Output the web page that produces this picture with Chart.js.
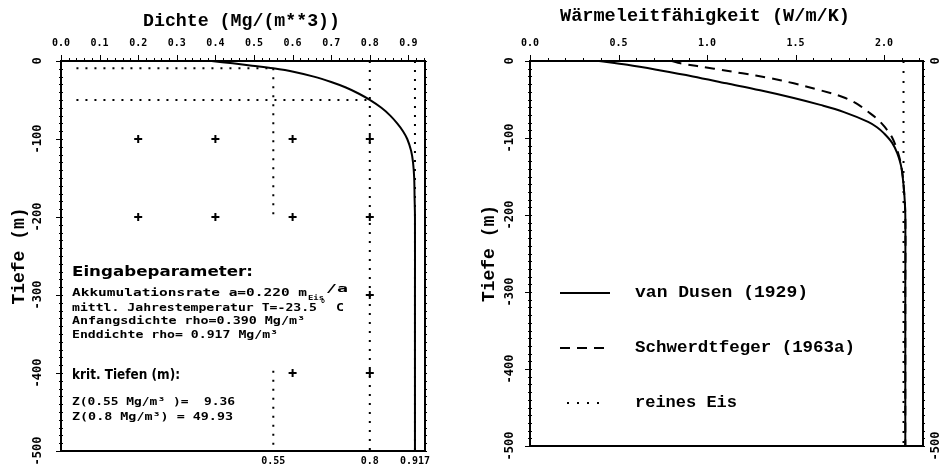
<!DOCTYPE html>
<html>
<head>
<meta charset="UTF-8">
<title>Dichte und Waermeleitfaehigkeit</title>
<script src="https://cdn.jsdelivr.net/npm/chart.js@4.4.1/dist/chart.umd.min.js"></script>
<style>
  body { margin:0; background:#fff; }
  #wrap { position:relative; width:943px; height:470px; }
  canvas { position:absolute; top:0; }
  #left { left:0; }
  #right { left:470px; }
</style>
</head>
<body>
<div id="wrap">
  <canvas id="left" width="470" height="470"></canvas>
  <canvas id="right" width="473" height="470"></canvas>
</div>
<script>
// tick labels
const densityTicks = [0, 0.1, 0.2, 0.3, 0.4, 0.5, 0.6, 0.7, 0.8, 0.9];
const conductTicks = [0, 0.5, 1.0, 1.5, 2.0];
const depthTicks = [0, -100, -200, -300, -400, -500];
const critTicks = [0.55, 0.8, 0.917];
const edgeTicks = [0, -500];

// input parameters (text block)
const accumulation = 0.220;
const meanTemp = -23.5;
const rhoStart = 0.390;
const rhoEnd = 0.917;
const critDensities = [0.55, 0.8];
const critDepths = [9.36, 49.93];

// density profile
const densityDepth = [0, -3, -6, -9.36, -14, -20, -27, -34, -42, -49.93, -60, -70, -80, -90, -100, -115, -130, -150, -175, -200, -300, -500];
const density = [0.39, 0.445, 0.495, 0.55, 0.605, 0.655, 0.70, 0.738, 0.772, 0.80, 0.83, 0.853, 0.871, 0.886, 0.897, 0.907, 0.912, 0.915, 0.916, 0.917, 0.917, 0.917];

// grid crosses
const crossDensity = [0.2, 0.4, 0.6, 0.8, 0.2, 0.4, 0.6, 0.8, 0.8, 0.6, 0.8];
const crossDepth = [-100, -100, -100, -100, -200, -200, -200, -200, -300, -400, -400];

// helper lines of the left panel
const refLineStart = 0.04;
const gap055 = [-200, -397];

// conductivity profiles
const vdDepth = [0, -5, -12, -20, -29, -38, -48, -57, -66, -79, -86, -94, -106, -120, -135, -150, -175, -200, -300, -500];
const vanDusen = [0.39, 0.55, 0.73, 0.92, 1.11, 1.30, 1.49, 1.64, 1.77, 1.91, 1.96, 2.00, 2.045, 2.075, 2.095, 2.105, 2.115, 2.12, 2.12, 2.12];
const swDepth = [0, -3, -10, -16, -22, -29, -38, -47, -56, -66, -76, -86, -99, -120, -140, -160, -200, -300, -500];
const schwerdtfeger = [0.80, 0.85, 1.04, 1.20, 1.35, 1.49, 1.64, 1.77, 1.85, 1.91, 1.965, 2.005, 2.045, 2.08, 2.10, 2.11, 2.12, 2.12, 2.12];
const pureIce = 2.11;

const MONO = "'Liberation Mono', monospace";
const SMALL = "bold 10px 'DejaVu Sans Mono', monospace";
const BIG = "bold 14px 'DejaVu Sans', sans-serif";

const pts = (xs, ys) => xs.map((v, i) => ({x: v, y: ys[i]}));

function line(data, dash, width, tension) {
    return {data: data, showLine: true, borderColor: '#000', borderWidth: width || 2,
        borderDash: dash || [], borderCapStyle: 'butt', pointRadius: 0, tension: tension || 0, spanGaps: false};
}

// draw text squeezed/stretched to a given width
function drawFit(ctx, text, x, y, font, width) {
    ctx.save();
    ctx.font = font;
    ctx.fillStyle = '#000';
    ctx.textBaseline = 'middle';
    ctx.textAlign = 'left';
    const w = ctx.measureText(text).width;
    ctx.translate(x, y);
    ctx.scale(width / w, 1);
    ctx.fillText(text, 0, 0);
    ctx.restore();
}

// frame plus the small tick marks
function drawFrame(chart, o) {
    const {ctx, chartArea: a, scales} = chart;
    const x = scales.x, y = scales.y;
    ctx.save();
    ctx.strokeStyle = '#000';
    ctx.lineWidth = 1;
    ctx.beginPath();
    for (let i = 0; i * o.xMinor <= x.max + 1e-9; i++) {
        const px = Math.round(x.getPixelForValue(i * o.xMinor)) + 0.5;
        const major = i % o.xEvery === 0;
        ctx.moveTo(px, a.top);
        ctx.lineTo(px, a.top - (major ? 6 : 3));
    }
    for (let i = 0; i * o.yMinor <= -y.min + 1e-9; i++) {
        const py = Math.round(y.getPixelForValue(-i * o.yMinor)) + 0.5;
        const major = i % o.yEvery === 0;
        ctx.moveTo(a.left - (major ? 5 : 2), py);
        ctx.lineTo(a.left + 2, py);
        ctx.moveTo(a.right - 1, py);
        ctx.lineTo(a.right + 2, py);
    }
    ctx.stroke();
    ctx.lineWidth = 2;
    ctx.strokeRect(a.left, a.top, a.right - a.left, a.bottom - a.top);
    ctx.restore();
}

const tickFont = {family: "'DejaVu Sans Mono', monospace", size: 10, weight: 'bold'};
const yTickFont = {family: "'DejaVu Sans Mono', monospace", size: 12, weight: 'bold'};
const axisTitle = {display: true, text: 'Tiefe (m)', color: '#000',
    font: {family: MONO, size: 18, weight: 'bold', lineHeight: 1.2}, padding: {top: 9, bottom: 0}};

function yAxis(width, pad, ticks, position) {
    return {
        type: 'linear', position: position || 'left', min: -500, max: 0,
        afterBuildTicks: s => { s.ticks = ticks.map(v => ({value: v})); },
        afterFit: s => { s.width = width; },
        grid: {display: false, drawTicks: false},
        border: {display: false},
        ticks: {color: '#000', font: yTickFont, padding: pad, crossAlign: 'center',
            minRotation: 90, maxRotation: 90, autoSkip: false, callback: v => String(v)}
    };
}

function xTop(max, ticks) {
    return {
        type: 'linear', position: 'top', min: 0, max: max,
        afterBuildTicks: s => { s.ticks = ticks.map(v => ({value: v})); },
        afterFit: s => { s.height = 61; },
        grid: {display: false, drawTicks: false},
        border: {display: false},
        ticks: {color: '#000', font: tickFont, padding: 12, autoSkip: false, maxRotation: 0,
            callback: v => v.toFixed(1)}
    };
}

// ---------- left: Dichte ----------
const densMax = 0.943;
const leftData = [
    line(pts(density, densityDepth), [], 2, 0.35),
    line([{x: rhoEnd, y: 0}, {x: rhoEnd, y: -500}], [2, 7], 2),
    line([{x: critDensities[1], y: 0}, {x: critDensities[1], y: -500}], [2, 7], 2),
    line([{x: critDensities[0], y: -critDepths[0]}, {x: critDensities[0], y: gap055[0]},
          {x: critDensities[0], y: null},
          {x: critDensities[0], y: gap055[1]}, {x: critDensities[0], y: -500}], [2, 7], 2),
    line([{x: refLineStart, y: -critDepths[0]}, {x: critDensities[0], y: -critDepths[0]}], [2, 7], 2),
    line([{x: refLineStart, y: -critDepths[1]}, {x: critDensities[1], y: -critDepths[1]}], [2, 7], 2),
    {data: pts(crossDensity, crossDepth), showLine: false, pointStyle: 'cross', pointRadius: 4,
        borderColor: '#000', borderWidth: 2, backgroundColor: '#000'}
];

const leftDecor = {
    id: 'leftDecor',
    afterDraw(chart) {
        const ctx = chart.ctx;
        drawFrame(chart, {xMinor: 0.02, xEvery: 5, yMinor: 10, yEvery: 10});
        drawFit(ctx, 'Dichte (Mg/(m**3))', 143, 21, 'bold 18px ' + MONO, 197);
        drawFit(ctx, 'Eingabeparameter:', 72, 272, BIG, 181);
        drawFit(ctx, 'Akkumulationsrate a=' + accumulation.toFixed(3) + ' m', 72, 293, SMALL, 235);
        drawFit(ctx, 'Eis', 308, 298, "bold 7px 'DejaVu Sans Mono'", 16);
        drawFit(ctx, '/a', 326, 289, SMALL, 22);
        drawFit(ctx, 'mittl. Jahrestemperatur T=' + meanTemp.toFixed(1), 72, 308, SMALL, 245);
        drawFit(ctx, '°', 320, 304, SMALL, 6);
        drawFit(ctx, 'C', 336, 308, SMALL, 8);
        drawFit(ctx, 'Anfangsdichte rho=' + rhoStart.toFixed(3) + ' Mg/m³', 72, 321, SMALL, 233);
        drawFit(ctx, 'Enddichte rho= ' + rhoEnd.toFixed(3) + ' Mg/m³', 72, 335, SMALL, 206);
        drawFit(ctx, 'krit. Tiefen (m):', 72, 375, BIG, 108);
        drawFit(ctx, 'Z(' + critDensities[0] + ' Mg/m³ )=  ' + critDepths[0].toFixed(2), 72, 402, SMALL, 163);
        drawFit(ctx, 'Z(' + critDensities[1] + ' Mg/m³) = ' + critDepths[1].toFixed(2), 72, 417, SMALL, 161);
    }
};

new Chart(document.getElementById('left'), {
    type: 'scatter',
    data: {datasets: leftData},
    options: {
        responsive: false, animation: false, events: [],
        layout: {padding: {left: 0, top: 0, right: 45, bottom: 0}},
        plugins: {legend: {display: false}, tooltip: {enabled: false}},
        scales: {
            x: xTop(densMax, densityTicks),
            xb: {
                type: 'linear', position: 'bottom', min: 0, max: densMax,
                afterBuildTicks: s => { s.ticks = critTicks.map(v => ({value: v})); },
                afterFit: s => { s.height = 19; },
                grid: {display: false, drawTicks: false},
                border: {display: false},
                ticks: {color: '#000', font: tickFont, padding: 4, autoSkip: false, maxRotation: 0,
                    callback: v => String(v)}
            },
            y: Object.assign(yAxis(61, 9, depthTicks), {title: axisTitle})
        }
    },
    plugins: [leftDecor]
});

// ---------- right: Waermeleitfaehigkeit ----------
const condMax = 2.22;
const rightData = [
    line(pts(vanDusen, vdDepth), [], 2, 0.35),
    line(pts(schwerdtfeger, swDepth), [10, 7], 2, 0.35),
    line([{x: pureIce, y: 0}, {x: pureIce, y: -500}], [2, 8], 2)
];
const legendNames = ['van Dusen (1929)', 'Schwerdtfeger (1963a)', 'reines Eis'];
const legendWidths = [173, 220, 102];

const rightDecor = {
    id: 'rightDecor',
    afterDraw(chart) {
        const ctx = chart.ctx;
        const a = chart.chartArea;
        drawFrame(chart, {xMinor: 0.1, xEvery: 5, yMinor: 10, yEvery: 10});
        drawFit(ctx, 'Wärmeleitfähigkeit (W/m/K)', 90, 16, 'bold 18px ' + MONO, 290);
        legendNames.forEach((name, i) => {
            const ds = chart.data.datasets[i];
            const yy = a.top + 232 + i * 55;
            ctx.save();
            ctx.strokeStyle = ds.borderColor;
            ctx.lineWidth = ds.borderWidth;
            ctx.setLineDash(ds.borderDash);
            ctx.beginPath();
            ctx.moveTo(a.left + (i === 2 ? 37 : 30), yy);
            ctx.lineTo(a.left + (i === 2 ? 73 : 80), yy);
            ctx.stroke();
            ctx.restore();
            drawFit(ctx, name, a.left + 105, yy, 'bold 16px ' + MONO, legendWidths[i]);
        });
    }
};

new Chart(document.getElementById('right'), {
    type: 'scatter',
    data: {datasets: rightData},
    options: {
        responsive: false, animation: false, events: [],
        layout: {padding: {left: 0, top: 0, right: 0, bottom: 24}},
        plugins: {legend: {display: false}, tooltip: {enabled: false}},
        scales: {
            x: xTop(condMax, conductTicks),
            y: Object.assign(yAxis(60, 6, depthTicks), {title: axisTitle}),
            y2: yAxis(20, -2, edgeTicks, 'right')
        }
    },
    plugins: [rightDecor]
});
</script>
</body>
</html>
